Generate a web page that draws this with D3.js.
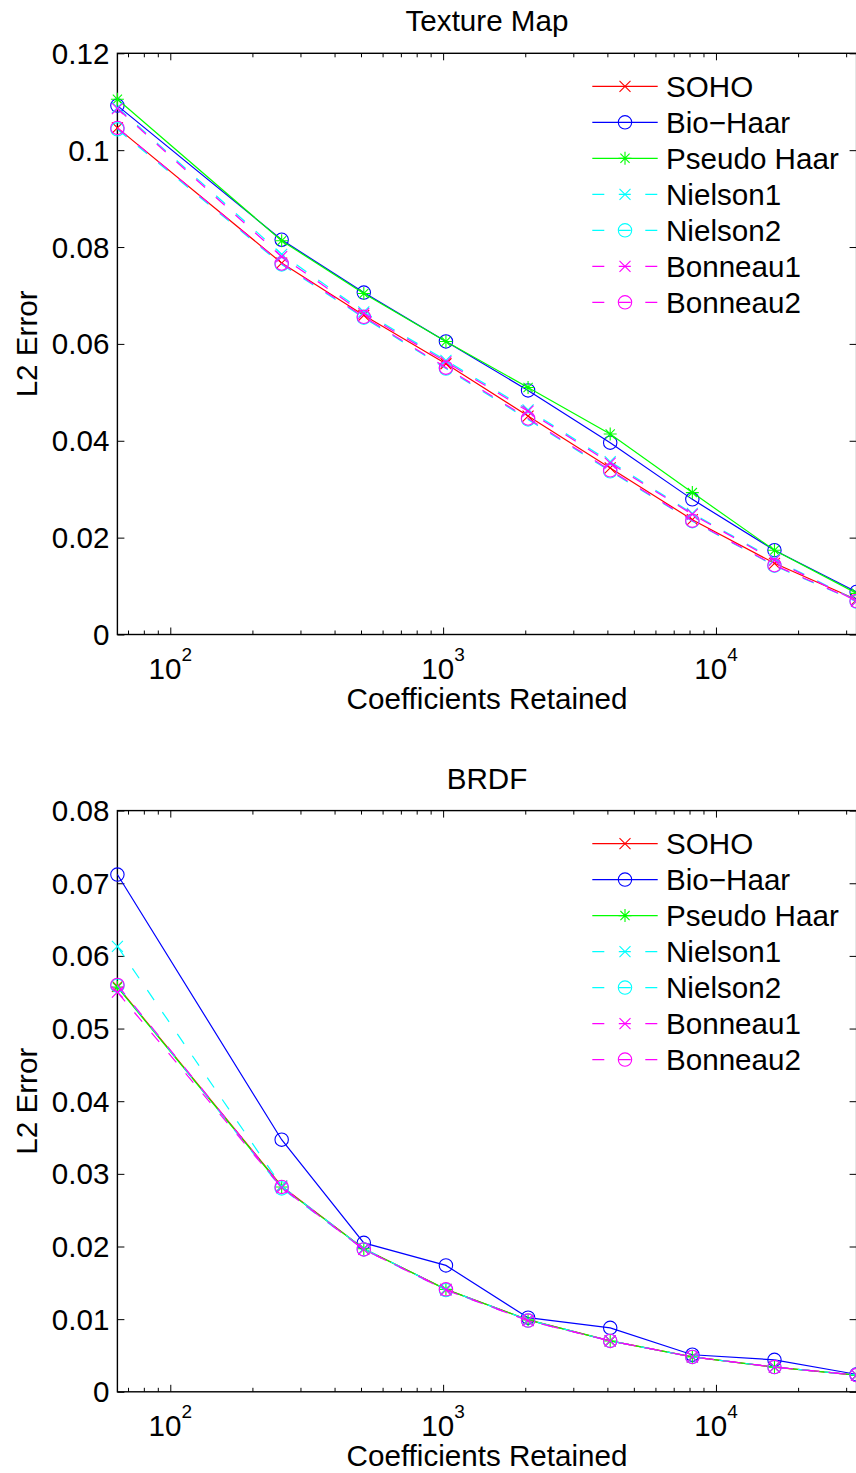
<!DOCTYPE html>
<html>
<head>
<meta charset="utf-8">
<script src="https://cdn.jsdelivr.net/npm/d3@7"></script>
<style>
  body { margin: 0; background: #fff; }
  text { font-family: "Liberation Sans", Arial, Helvetica, sans-serif; fill: #000; }
</style>
</head>
<body>
<script>
//data
var coeffs = [64, 256, 512, 1024, 2048, 4096, 8192, 16384, 32768];
var seriesNames = ["SOHO", "Bio\u2212Haar", "Pseudo Haar", "Nielson1", "Nielson2", "Bonneau1", "Bonneau2"];

var textureSOHO     = [0.1046, 0.0767, 0.0659, 0.0559, 0.0451, 0.0344, 0.0237, 0.0147, 0.0072];
var textureBioHaar  = [0.1092, 0.0815, 0.0706, 0.0605, 0.0504, 0.0396, 0.0279, 0.0174, 0.0088];
var texturePseudo   = [0.1105, 0.0813, 0.0704, 0.0605, 0.0510, 0.0414, 0.0293, 0.0174, 0.0085];
var textureNielson1 = [0.1088, 0.0785, 0.0666, 0.0566, 0.0464, 0.0357, 0.0250, 0.0155, 0.0070];
var textureNielson2 = [0.1043, 0.0764, 0.0654, 0.0549, 0.0444, 0.0337, 0.0234, 0.0142, 0.0068];
var textureBonneau1 = [0.1086, 0.0780, 0.0663, 0.0563, 0.0461, 0.0354, 0.0248, 0.0153, 0.0069];
var textureBonneau2 = [0.1046, 0.0766, 0.0656, 0.0551, 0.0446, 0.0339, 0.0235, 0.0143, 0.0069];

var brdfSOHO     = [0.0558, 0.0283, 0.0197, 0.0141, 0.0099, 0.0070, 0.0048, 0.0034, 0.0023];
var brdfBioHaar  = [0.0712, 0.0347, 0.0205, 0.0174, 0.0102, 0.0088, 0.0051, 0.0044, 0.0024];
var brdfPseudo   = [0.0557, 0.0282, 0.0197, 0.0141, 0.0099, 0.0070, 0.0048, 0.0034, 0.0023];
var brdfNielson1 = [0.0613, 0.0283, 0.0197, 0.0141, 0.0099, 0.0070, 0.0048, 0.0034, 0.0023];
var brdfNielson2 = [0.0559, 0.0280, 0.0196, 0.0140, 0.0098, 0.0070, 0.0048, 0.0034, 0.0023];
var brdfBonneau1 = [0.0550, 0.0281, 0.0196, 0.0140, 0.0098, 0.0070, 0.0048, 0.0034, 0.0023];
var brdfBonneau2 = [0.0560, 0.0282, 0.0196, 0.0141, 0.0098, 0.0070, 0.0048, 0.0034, 0.0023];

var textureYTicks = [0, 0.02, 0.04, 0.06, 0.08, 0.1, 0.12];
var brdfYTicks = [0, 0.01, 0.02, 0.03, 0.04, 0.05, 0.06, 0.07, 0.08];
var xMajorTicks = [100, 1000, 10000];
var xMajorExp = ["2", "3", "4"];

//styles
var colors = ["#ff0000", "#0000ff", "#00ff00", "#00ffff", "#00ffff", "#ff00ff", "#ff00ff"];
var markers = ["x", "o", "*", "x", "o", "x", "o"];
var dashed = [false, false, false, true, true, true, true];
var dashPattern = "12,14.5";

//global layout
var svgW = 856, svgH = 1473;
var plotLeft = 117.4, plotRight = 856.6, plotH = 581.2;
var fontSize = 29.6;

var xScale = d3.scaleLog()
               .domain([64, 32768])
               .range([plotLeft, plotRight]);

var xMinor = [];
[10, 100, 1000, 10000].forEach(function(b){
    for (var k = 2; k <= 9; k++) {
        var v = b * k;
        if (v >= 64 && v <= 32768) xMinor.push(v);
    }
});

var _svg = d3.select("body")
            .append("svg")
            .attr("width", svgW)
            .attr("height", svgH);

drawPanel(53.3, "Texture Map", [0, 0.12], textureYTicks,
          [textureSOHO, textureBioHaar, texturePseudo, textureNielson1, textureNielson2, textureBonneau1, textureBonneau2]);
drawPanel(810.6, "BRDF", [0, 0.08], brdfYTicks,
          [brdfSOHO, brdfBioHaar, brdfPseudo, brdfNielson1, brdfNielson2, brdfBonneau1, brdfBonneau2]);

//draws a marker symbol into group g at (x, y)
function drawMarker(g, type, x, y, color)
{
    var s = g.append("g")
             .attr("transform", "translate(" + x + "," + y + ")")
             .attr("stroke", color)
             .attr("stroke-width", 1.1)
             .attr("fill", "none");
    if (type === "o") {
        s.append("circle").attr("r", 6.7);
    } else if (type === "x") {
        s.append("path").attr("d", "M -5.5 -5.5 L 5.5 5.5 M -5.5 5.5 L 5.5 -5.5");
    } else {
        s.append("path").attr("d", "M 0 -6.5 L 0 6.5 M -6.5 0 L 6.5 0 M -4.6 -4.6 L 4.6 4.6 M -4.6 4.6 L 4.6 -4.6");
    }
}

function drawPanel(top, title, yDomain, yTicks, series)
{
    var bottom = top + plotH;
    var yScale = d3.scaleLinear().domain(yDomain).range([bottom, top]);

    var g = _svg.append("g");

    //minor x ticks (bottom and top, inward)
    g.append("g")
     .attr("transform", "translate(0," + bottom + ")")
     .call(d3.axisBottom(xScale).tickValues(xMinor).tickSize(-4).tickFormat(""));
    g.append("g")
     .attr("transform", "translate(0," + top + ")")
     .call(d3.axisTop(xScale).tickValues(xMinor).tickSize(-4).tickFormat(""));
    //major x ticks
    g.append("g")
     .attr("transform", "translate(0," + bottom + ")")
     .call(d3.axisBottom(xScale).tickValues(xMajorTicks).tickSize(-7).tickFormat(""));
    g.append("g")
     .attr("transform", "translate(0," + top + ")")
     .call(d3.axisTop(xScale).tickValues(xMajorTicks).tickSize(-7).tickFormat(""));
    //y ticks left and right
    g.append("g")
     .attr("transform", "translate(" + plotLeft + ",0)")
     .call(d3.axisLeft(yScale).tickValues(yTicks).tickSize(-7).tickFormat(""));
    g.append("g")
     .attr("transform", "translate(" + plotRight + ",0)")
     .call(d3.axisRight(yScale).tickValues(yTicks).tickSize(-7).tickFormat(""));

    g.selectAll(".domain").remove();
    g.selectAll(".tick line").attr("stroke", "#000").attr("stroke-width", 1);

    //box
    g.append("rect")
     .attr("x", plotLeft).attr("y", top)
     .attr("width", plotRight - plotLeft).attr("height", plotH)
     .attr("fill", "none").attr("stroke", "#000").attr("stroke-width", 1.4);

    //y tick labels
    g.selectAll("text.ylab")
     .data(yTicks)
     .enter()
     .append("text")
     .attr("class", "ylab")
     .attr("x", plotLeft - 8)
     .attr("y", function(d){ return yScale(d) + 10.5; })
     .attr("text-anchor", "end")
     .style("font-size", fontSize + "px")
     .text(function(d){ return String(d); });

    //x tick labels (10^n)
    var xl = g.selectAll("text.xlab")
              .data(xMajorTicks)
              .enter()
              .append("text")
              .attr("class", "xlab")
              .attr("x", function(d){ return xScale(d); })
              .attr("y", bottom + 44)
              .attr("text-anchor", "middle")
              .style("font-size", fontSize + "px");
    xl.append("tspan").text("10");
    xl.append("tspan")
      .attr("dy", -18)
      .style("font-size", "19px")
      .text(function(d, i){ return xMajorExp[i]; });

    //axis labels and title
    g.append("text")
     .attr("x", (plotLeft + plotRight) / 2)
     .attr("y", bottom + 74)
     .attr("text-anchor", "middle")
     .style("font-size", fontSize + "px")
     .text("Coefficients Retained");

    g.append("text")
     .attr("transform", "translate(37," + ((top + bottom) / 2) + ") rotate(-90)")
     .attr("text-anchor", "middle")
     .style("font-size", fontSize + "px")
     .text("L2 Error");

    g.append("text")
     .attr("x", (plotLeft + plotRight) / 2)
     .attr("y", top - 22)
     .attr("text-anchor", "middle")
     .style("font-size", fontSize + "px")
     .text(title);

    //lines
    var line = d3.line()
                 .x(function(d, i){ return xScale(coeffs[i]); })
                 .y(function(d){ return yScale(d); });

    series.forEach(function(vals, s){
        g.append("path")
         .attr("d", line(vals))
         .attr("fill", "none")
         .attr("stroke", colors[s])
         .attr("stroke-width", 1.2)
         .attr("stroke-dasharray", dashed[s] ? dashPattern : null);
        vals.forEach(function(v, i){
            drawMarker(g, markers[s], xScale(coeffs[i]), yScale(v), colors[s]);
        });
    });

    //legend (no box)
    var lg = g.append("g");
    seriesNames.forEach(function(name, s){
        var ly = top + 33 + s * 36;
        lg.append("path")
          .attr("d", "M 592.3 " + ly + " L 657.7 " + ly)
          .attr("stroke", colors[s])
          .attr("stroke-width", 1.2)
          .attr("stroke-dasharray", dashed[s] ? dashPattern : null);
        drawMarker(lg, markers[s], 625, ly, colors[s]);
        lg.append("text")
          .attr("x", 666)
          .attr("y", ly + 10.6)
          .style("font-size", fontSize + "px")
          .text(name);
    });
}
</script>
</body>
</html>
